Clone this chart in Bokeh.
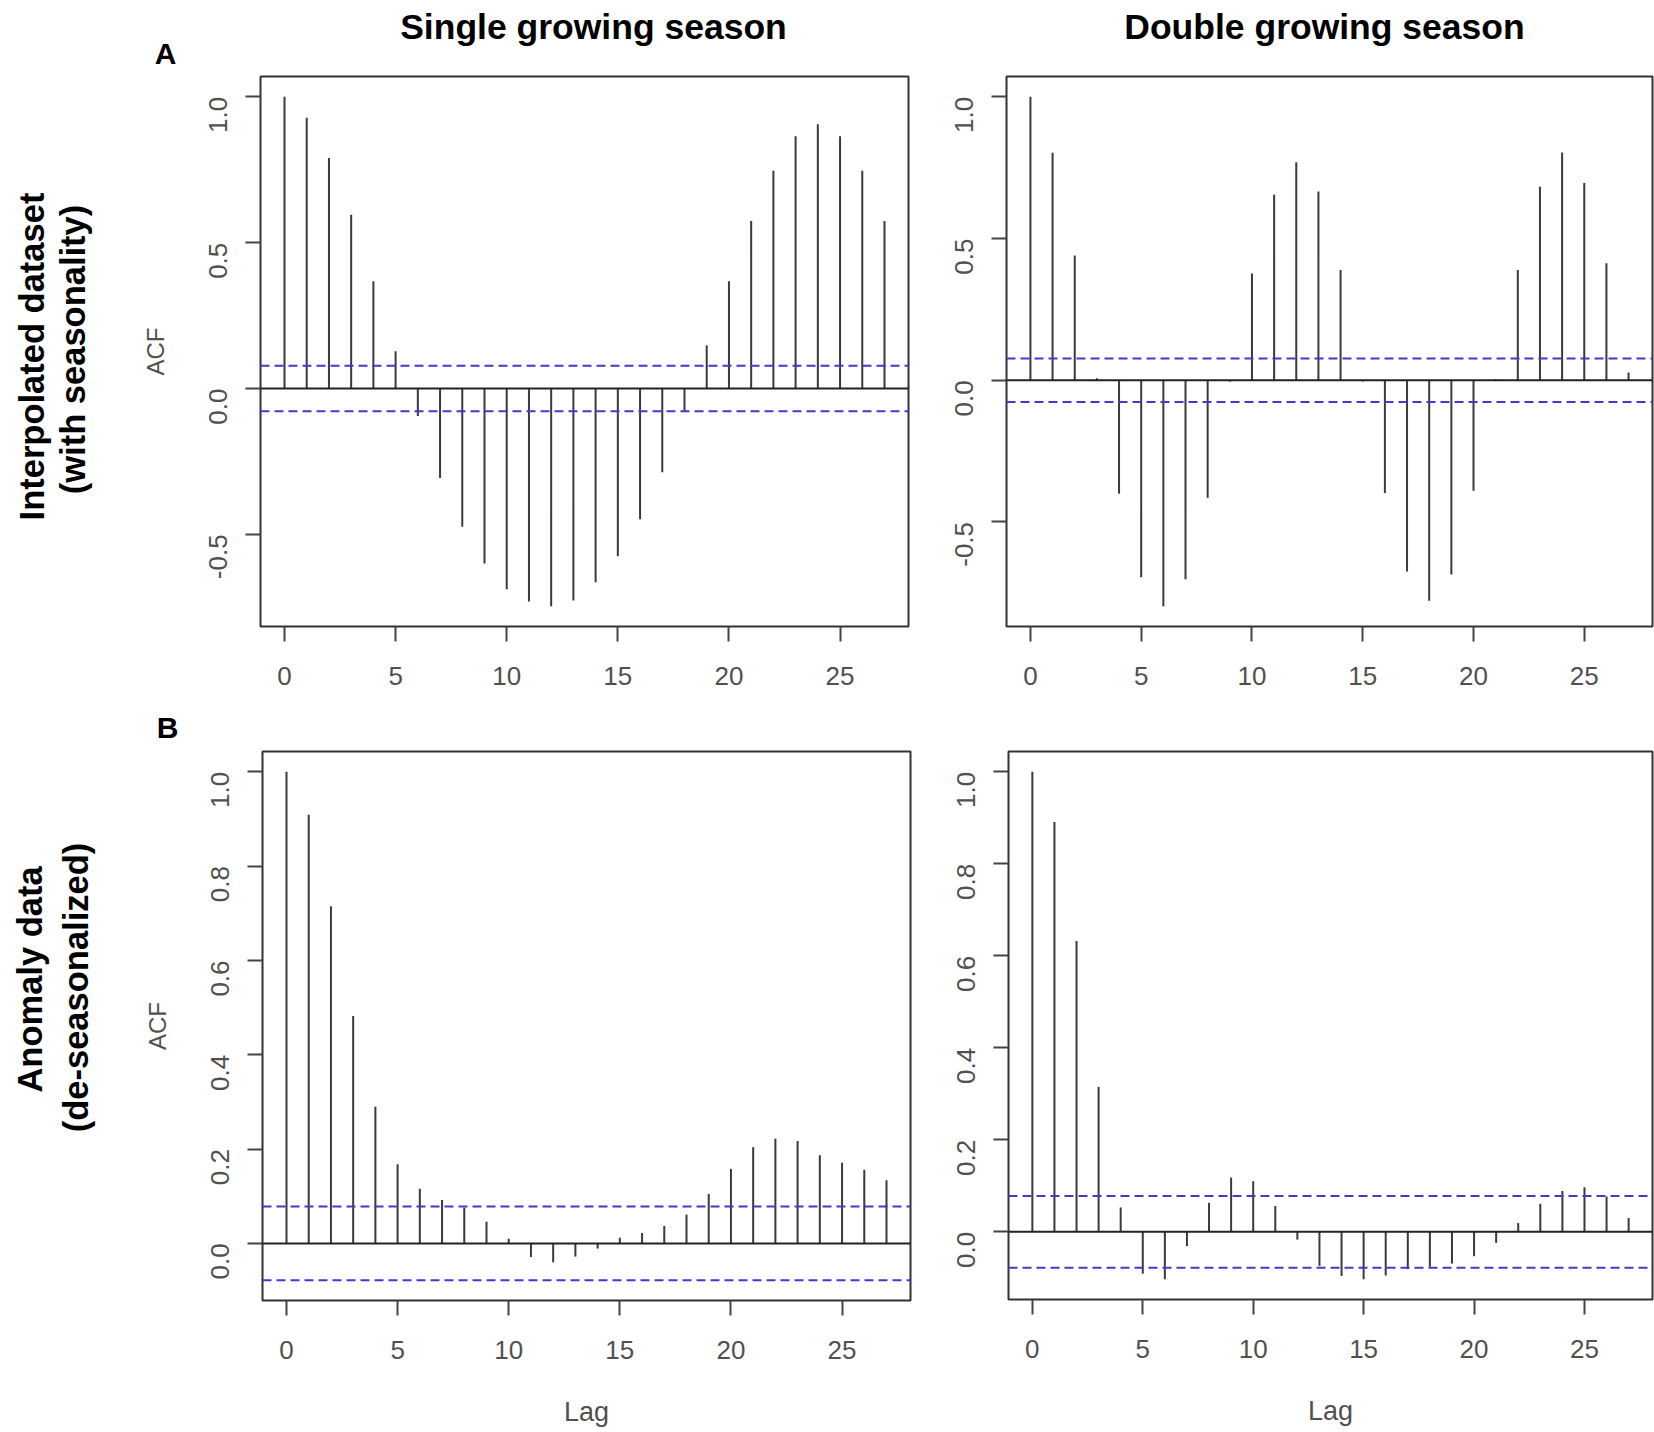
import math
from bokeh.plotting import figure
from bokeh.models import Range1d, FixedTicker, PrintfTickFormatter, Span, Label
from bokeh.layouts import column, row
from bokeh.embed import file_html
from bokeh.resources import INLINE

# ---------------- data ----------------
lags = list(range(28))

acf_single_interp = [1.0, 0.928, 0.79, 0.596, 0.368, 0.128, -0.094, -0.307, -0.474, -0.60,
                     -0.688, -0.73, -0.746, -0.727, -0.664, -0.575, -0.448, -0.287, -0.077, 0.148,
                     0.368, 0.574, 0.747, 0.865, 0.906, 0.865, 0.747, 0.574]
acf_double_interp = [1.0, 0.803, 0.44, 0.007, -0.40, -0.695, -0.797, -0.702, -0.415, -0.005,
                     0.377, 0.655, 0.769, 0.666, 0.389, -0.004, -0.398, -0.675, -0.778, -0.685,
                     -0.39, 0.004, 0.389, 0.683, 0.804, 0.696, 0.413, 0.027]
acf_single_anom = [1.0, 0.909, 0.715, 0.482, 0.29, 0.168, 0.116, 0.092, 0.076, 0.046,
                   0.01, -0.029, -0.04, -0.028, -0.011, 0.012, 0.022, 0.037, 0.061, 0.105,
                   0.158, 0.204, 0.222, 0.217, 0.187, 0.171, 0.156, 0.134]
acf_double_anom = [1.0, 0.891, 0.632, 0.315, 0.053, -0.091, -0.103, -0.031, 0.063, 0.118,
                   0.11, 0.056, -0.017, -0.074, -0.096, -0.103, -0.095, -0.081, -0.076, -0.069,
                   -0.053, -0.024, 0.019, 0.061, 0.089, 0.097, 0.077, 0.03]

ci_single_interp = 0.078
ci_double_interp = 0.077
ci_single_anom = 0.078
ci_double_anom = 0.078

col_titles = ["Single growing season", "Double growing season"]
row_titles_interp = ["Interpolated dataset", "(with seasonality)"]
row_titles_anom = ["Anomaly data", "(de-seasonalized)"]
panel_letters = ["A", "B"]
yticks_interp = [-0.5, 0.0, 0.5, 1.0]
yticks_anom = [0.0, 0.2, 0.4, 0.6, 0.8, 1.0]
xticks = [0, 5, 10, 15, 20, 25]
x_label = "Lag"
y_label = "ACF"

FONT = "Liberation Sans"
TICK_GRAY = "#505050"
PAGE_W, PAGE_H = 1654, 1432
STRIP_W = 120      # left strip holding the row labels
HEAD_H = 70        # header strip holding the column titles and letter A
MID_H = 44         # strip between the rows holding the letter B


def make_panel(values, ci, yticks, fw, fh, left, right, top, bottom, ylabel=None, xlabel=None):
    lo = min(min(values), -ci)
    hi = max(max(values), ci)
    pad = 0.04 * (hi - lo)
    xlo, xhi = min(lags), max(lags)
    xpad = 0.04 * (xhi - xlo)
    p = figure(frame_width=fw, frame_height=fh,
               x_range=Range1d(xlo - xpad, xhi + xpad),
               y_range=Range1d(lo - pad, hi + pad),
               min_border_left=left, min_border_right=right,
               min_border_top=top, min_border_bottom=bottom,
               output_backend="svg", toolbar_location=None, title=None,
               background_fill_color="white", border_fill_color="white")
    p.xgrid.visible = False
    p.ygrid.visible = False
    p.outline_line_color = "#333333"
    p.outline_line_width = 2

    p.xaxis.ticker = FixedTicker(ticks=xticks)
    p.yaxis.ticker = FixedTicker(ticks=yticks)
    p.yaxis.formatter = PrintfTickFormatter(format="%.1f")
    for ax in (p.xaxis, p.yaxis):
        ax.axis_line_color = None
        ax.minor_tick_line_color = None
        ax.major_tick_line_color = "#444444"
        ax.major_tick_line_width = 2
        ax.major_tick_out = 15
        ax.major_tick_in = 0
        ax.major_label_text_font = FONT
        ax.major_label_text_font_size = "26px"
        ax.major_label_text_color = TICK_GRAY
    p.yaxis.major_label_orientation = math.pi / 2
    p.yaxis.major_label_standoff = 27
    p.xaxis.major_label_standoff = 25

    if ylabel:
        p.yaxis.axis_label = ylabel
        p.yaxis.axis_label_text_font = FONT
        p.yaxis.axis_label_text_font_size = "24px"
        p.yaxis.axis_label_text_font_style = "normal"
        p.yaxis.axis_label_text_color = TICK_GRAY
        p.yaxis.axis_label_standoff = 29
    if xlabel:
        p.xaxis.axis_label = xlabel
        p.xaxis.axis_label_text_font = FONT
        p.xaxis.axis_label_text_font_size = "27px"
        p.xaxis.axis_label_text_font_style = "normal"
        p.xaxis.axis_label_text_color = TICK_GRAY
        p.xaxis.axis_label_standoff = 35

    # confidence band and zero line
    for level in (ci, -ci):
        p.add_layout(Span(location=level, dimension="width", line_color="#3c3cd2",
                          line_width=2, line_dash="9 5"))
    p.add_layout(Span(location=0, dimension="width", line_color="#222222", line_width=2))
    # ACF stems
    p.segment(x0=lags, y0=[0.0] * len(lags), x1=lags, y1=values,
              line_color="#3a3a3a", line_width=2)
    return p


def text_strip(w, h):
    """Blank svg canvas used only to hold text labels (positions in screen px)."""
    s = figure(width=w, height=h, min_border=0, min_border_left=0, min_border_right=0,
               min_border_top=0, min_border_bottom=0,
               x_range=Range1d(0, 1), y_range=Range1d(0, 1),
               x_axis_location=None, y_axis_location=None,
               output_backend="svg", toolbar_location=None, title=None,
               background_fill_color="white", border_fill_color="white")
    s.grid.visible = False
    s.outline_line_color = None
    return s


def put(s, x, y, text, size, angle=0.0):
    s.add_layout(Label(x=x, y=y, x_units="screen", y_units="screen", text=text,
                       angle=angle, text_align="center", text_baseline="middle",
                       text_font=FONT, text_font_size=size, text_font_style="bold",
                       text_color="black"))


# ---- plot panels ----
pA1 = make_panel(acf_single_interp, ci_single_interp, yticks_interp,
                 648, 550, 140, 20, 4, 76, ylabel=y_label)
pA2 = make_panel(acf_double_interp, ci_double_interp, yticks_interp,
                 646, 550, 78, 2, 6, 74)
pB1 = make_panel(acf_single_anom, ci_single_anom, yticks_anom,
                 648, 549, 142, 18, 4, 135, ylabel=y_label, xlabel=x_label)
pB2 = make_panel(acf_double_anom, ci_double_anom, yticks_anom,
                 644, 548, 80, 2, 7, 133, xlabel=x_label)

# ---- header: column titles and panel letter A (x from strip left, y up from strip bottom) ----
head = text_strip(PAGE_W - STRIP_W, HEAD_H)
put(head, 593 - STRIP_W, HEAD_H - 26, col_titles[0], "35.5px")
put(head, 1324 - STRIP_W, HEAD_H - 26, col_titles[1], "35.5px")
put(head, 165 - STRIP_W, HEAD_H - 53, panel_letters[0], "30px")

# ---- strip between the rows: panel letter B ----
mid = text_strip(PAGE_W - STRIP_W, MID_H)
put(mid, 167 - STRIP_W, MID_H - 27, panel_letters[1], "30px")

# ---- left strip: row labels (rotated) ----
left = text_strip(STRIP_W, PAGE_H)
put(left, 31, PAGE_H - 356, row_titles_interp[0], "34.5px", math.pi / 2)
put(left, 72, PAGE_H - 349, row_titles_interp[1], "34.5px", math.pi / 2)
put(left, 29, PAGE_H - 979, row_titles_anom[0], "34.5px", math.pi / 2)
put(left, 75, PAGE_H - 987, row_titles_anom[1], "34.5px", math.pi / 2)

layout = row(left, column(head, row(pA1, pA2), mid, row(pB1, pB2)))

open("out.html", "w").write(file_html(layout, INLINE))
